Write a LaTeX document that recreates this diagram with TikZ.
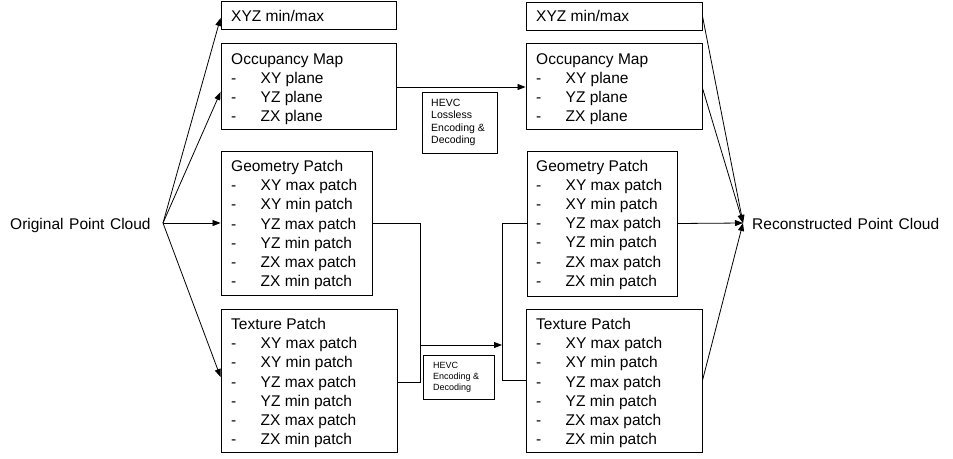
\documentclass[tikz,border=0pt]{standalone}
\usepackage{fontspec}
\setmainfont{Liberation Sans}
\usetikzlibrary{arrows.meta,fit,calc}
\newcommand{\dashitem}{\makebox[29.5pt][l]{-}}
\newcommand{\widespace}{\spaceskip=5.6pt plus 1pt minus 1pt\relax}
\begin{document}
\begin{tikzpicture}[x=1pt,y=-1pt,
  box/.style={draw, line width=0.9pt, inner sep=0pt},
  txt/.style={anchor=base west, inner sep=0pt, font=\fontsize{15.5}{19.2}\selectfont},
  htxtA/.style={anchor=base west, inner sep=0pt, font=\fontsize{10.5}{12.6}\selectfont},
  htxtB/.style={anchor=base west, inner sep=0pt, font=\fontsize{9}{10.9}\selectfont},
  lbl/.style={anchor=base west, inner sep=0pt, font=\fontsize{15.5}{19}\selectfont\widespace},
  plain/.style={line width=0.8pt},
  conn/.style={line width=0.8pt, -{Triangle[length=8pt,width=6pt]}}]
\fill[white] (0,0) rectangle (953,458);
\useasboundingbox (0,0) rectangle (953,458);

% boxes
\node[box, fit={(221,1) (396,29)}] (LX) {};
\node[box, fit={(221,43) (396,129)}] (LO) {};
\node[box, fit={(221,151) (372,295)}] (LG) {};
\node[box, fit={(221,309) (397,452)}] (LT) {};
\node[box, fit={(526,2) (702,30)}] (RX) {};
\node[box, fit={(526,43) (702,129)}] (RO) {};
\node[box, fit={(527,151) (677,296)}] (RG) {};
\node[box, fit={(526,309) (702,452)}] (RT) {};
\node[box, fit={(422,92) (497,153)}] (H1) {};
\node[box, fit={(423,355) (494,399)}] (H2) {};

% box texts
\node[txt] (LXt) at (231,21.5) {XYZ min/max};
\node[txt] (LOt) at (231,64) {\begin{tabular}[t]{@{}l@{}}Occupancy Map\\\dashitem XY plane\\\dashitem YZ plane\\\dashitem ZX plane\end{tabular}};
\node[txt] (LGt) at (231,171.5) {\begin{tabular}[t]{@{}l@{}}Geometry Patch\\\dashitem XY max patch\\\dashitem XY min patch\\\dashitem YZ max patch\\\dashitem YZ min patch\\\dashitem ZX max patch\\\dashitem ZX min patch\end{tabular}};
\node[txt] (LTt) at (231,329.5) {\begin{tabular}[t]{@{}l@{}}Texture Patch\\\dashitem XY max patch\\\dashitem XY min patch\\\dashitem YZ max patch\\\dashitem YZ min patch\\\dashitem ZX max patch\\\dashitem ZX min patch\end{tabular}};

\node[txt] (RXt) at (536,21.5) {XYZ min/max};
\node[txt] (ROt) at (536,64) {\begin{tabular}[t]{@{}l@{}}Occupancy Map\\\dashitem XY plane\\\dashitem YZ plane\\\dashitem ZX plane\end{tabular}};
\node[txt] (RGt) at (536,171) {\begin{tabular}[t]{@{}l@{}}Geometry Patch\\\dashitem XY max patch\\\dashitem XY min patch\\\dashitem YZ max patch\\\dashitem YZ min patch\\\dashitem ZX max patch\\\dashitem ZX min patch\end{tabular}};
\node[txt] (RTt) at (536,329.5) {\begin{tabular}[t]{@{}l@{}}Texture Patch\\\dashitem XY max patch\\\dashitem XY min patch\\\dashitem YZ max patch\\\dashitem YZ min patch\\\dashitem ZX max patch\\\dashitem ZX min patch\end{tabular}};

\node[htxtA] (H1t) at (431,106) {\begin{tabular}[t]{@{}l@{}}HEVC\\Lossless\\Encoding \&\\Decoding\end{tabular}};
\node[htxtB] (H2t) at (433,368.3) {\begin{tabular}[t]{@{}l@{}}HEVC\\Encoding \&\\Decoding\end{tabular}};

% main labels
\node[lbl] (OPC) at (10,229) {Original Point Cloud};
\node[lbl] (RPC) at (752,229) {Reconstructed Point Cloud};

\coordinate (src) at (163,223);
\coordinate (dst) at (743,223);
\coordinate (jL) at (420.5,345);
\coordinate (jR) at (502,345);

% left fan-out
\draw[conn] (src) -- ([yshift=-3pt]LX.west);
\draw[conn] (src) -- ([yshift=-6pt]LO.west);
\draw[conn] (src) -- (LG.west);
\draw[conn] (src) -- ([yshift=3.5pt]LT.west);

% right fan-in
\draw[conn] (RX.east) -- (dst);
\draw[conn] ([yshift=-2pt]RO.east) -- (dst);
\draw[conn] (RG.east) -- (dst);
\draw[conn] (RT.east) -- (dst);

% middle
\draw[conn] ([yshift=-1pt]LO.west -| LO.east) -- ([yshift=-1pt]RO.west);
\draw[plain] (LG.east) -| (jL);
\draw[plain] ([yshift=-1.5pt]LT.east) -| (jL);
\draw[conn] (jL) -- (jR);
\draw[plain] (RG.west) -| (jR);
\draw[plain] (RT.west) -| (jR);
\end{tikzpicture}
\end{document}
